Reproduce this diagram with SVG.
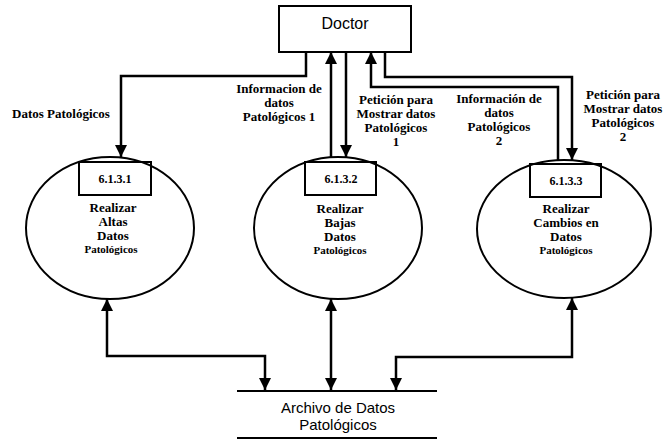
<svg xmlns="http://www.w3.org/2000/svg" width="668" height="440" viewBox="0 0 668 440">
  <style>
    .shape { fill: none; stroke: #000; stroke-width: 2; }
    .flow { fill: none; stroke: #000; stroke-width: 2.5; }
    .lbl { font-family: "Liberation Serif", "Times New Roman", serif; font-weight: bold; font-size: 13px; fill: #000; text-anchor: middle; }
    .small { font-size: 11px; }
    .id { font-family: "Liberation Serif", "Times New Roman", serif; font-weight: bold; font-size: 12px; fill: #000; text-anchor: middle; }
    .sans { font-family: "Liberation Sans", Arial, sans-serif; fill: #000; text-anchor: middle; }
  </style>
  <defs>
    <marker id="arrow" viewBox="0 0 12 12" refX="12" refY="6" markerWidth="12" markerHeight="12" markerUnits="userSpaceOnUse" orient="auto-start-reverse">
      <path d="M0,0 L12,6 L0,12 z" fill="#000"/>
    </marker>
  </defs>
  <rect width="668" height="440" fill="#fff"/>

  <!-- external entity -->
  <g id="doctor">
    <rect class="shape" x="279" y="6" width="132" height="46"/>
    <text class="sans" x="345" y="29" font-size="16">Doctor</text>
  </g>

  <!-- process 6.1.3.1 -->
  <g id="p6131">
    <ellipse class="shape" cx="110" cy="228" rx="84" ry="71"/>
    <rect class="shape" x="79" y="162" width="72" height="33"/>
    <text class="id" x="115" y="183">6.1.3.1</text>
    <text class="lbl" x="113" y="212">Realizar</text>
    <text class="lbl" x="113" y="226">Altas</text>
    <text class="lbl" x="113" y="240">Datos</text>
    <text class="lbl small" x="111" y="253">Patológicos</text>
  </g>

  <!-- process 6.1.3.2 -->
  <g id="p6132">
    <ellipse class="shape" cx="338" cy="228" rx="84" ry="71"/>
    <rect class="shape" x="305" y="162" width="71" height="33"/>
    <text class="id" x="341" y="183">6.1.3.2</text>
    <text class="lbl" x="340" y="213">Realizar</text>
    <text class="lbl" x="340" y="227">Bajas</text>
    <text class="lbl" x="340" y="241">Datos</text>
    <text class="lbl small" x="340" y="254">Patológicos</text>
  </g>

  <!-- process 6.1.3.3 -->
  <g id="p6133">
    <ellipse class="shape" cx="564" cy="229" rx="87" ry="69"/>
    <rect class="shape" x="530" y="164" width="71" height="33"/>
    <text class="id" x="566" y="185">6.1.3.3</text>
    <text class="lbl" x="566" y="213">Realizar</text>
    <text class="lbl" x="566" y="227">Cambios en</text>
    <text class="lbl" x="566" y="241">Datos</text>
    <text class="lbl small" x="566" y="254">Patológicos</text>
  </g>

  <!-- data store -->
  <g id="store">
    <line class="shape" x1="237" y1="391" x2="437" y2="391"/>
    <line class="shape" x1="237" y1="438" x2="437" y2="438"/>
    <text class="sans" x="338" y="413" font-size="15">Archivo de Datos</text>
    <text class="sans" x="338" y="430" font-size="15">Patológicos</text>
  </g>

  <!-- data flows -->
  <g id="connectors">
    <path class="flow" d="M306,52 V76 H121 V157" marker-end="url(#arrow)"/>
    <path class="flow" d="M331,158 V52" marker-end="url(#arrow)"/>
    <path class="flow" d="M346,52 V157" marker-end="url(#arrow)"/>
    <path class="flow" d="M558,161 V87 H371 V52" marker-end="url(#arrow)"/>
    <path class="flow" d="M385,52 V77 H572 V160" marker-end="url(#arrow)"/>
    <path class="flow" d="M107,299 V356 H265 V390" marker-start="url(#arrow)" marker-end="url(#arrow)"/>
    <path class="flow" d="M331,299 V390" marker-start="url(#arrow)" marker-end="url(#arrow)"/>
    <path class="flow" d="M572,298 V357 H396 V390" marker-start="url(#arrow)" marker-end="url(#arrow)"/>

    <text class="lbl" x="61" y="118">Datos Patológicos</text>

    <text class="lbl" x="279" y="93">Informacion de</text>
    <text class="lbl" x="279" y="107">datos</text>
    <text class="lbl" x="279" y="121">Patológicos 1</text>

    <text class="lbl" x="396" y="104">Petición para</text>
    <text class="lbl" x="396" y="118">Mostrar datos</text>
    <text class="lbl" x="396" y="132">Patológicos</text>
    <text class="lbl" x="396" y="146">1</text>

    <text class="lbl" x="499" y="103">Información de</text>
    <text class="lbl" x="499" y="117">datos</text>
    <text class="lbl" x="499" y="131">Patológicos</text>
    <text class="lbl" x="499" y="145">2</text>

    <text class="lbl" x="623" y="99">Petición para</text>
    <text class="lbl" x="623" y="113">Mostrar datos</text>
    <text class="lbl" x="623" y="127">Patológicos</text>
    <text class="lbl" x="623" y="141">2</text>
  </g>
</svg>
